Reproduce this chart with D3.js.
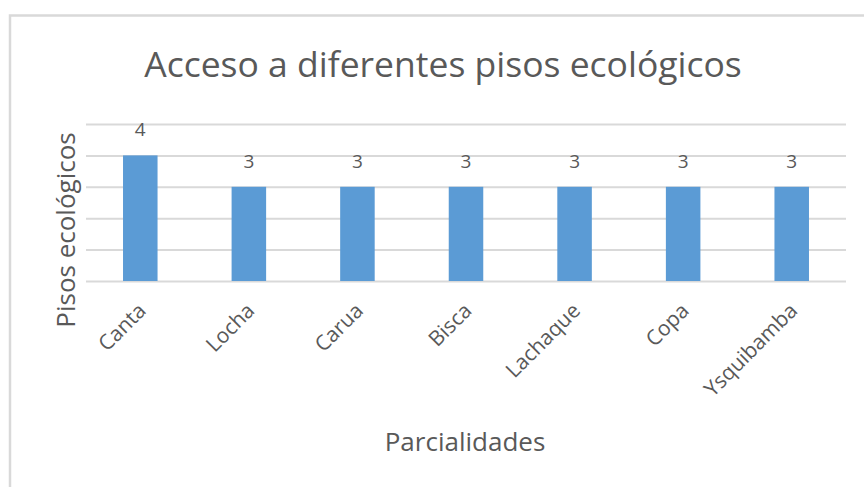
<!DOCTYPE html>
<html>
<head>
<meta charset="utf-8">
<script src="https://cdn.jsdelivr.net/npm/d3@7"></script>
<style>
  html, body { margin: 0; padding: 0; background: #fff; }
  svg { display: block; }
  text { font-family: "Open Sans", "Noto Sans", sans-serif; fill: #595959; }
</style>
</head>
<body>
<svg id="chart" width="864" height="487"></svg>
<script>
// Parcialidades and number of ecological floors reached by each
const categories = ["Canta", "Locha", "Carua", "Bisca", "Lachaque", "Copa", "Ysquibamba"];
const values = [4, 3, 3, 3, 3, 3, 3];
const yTicks = [0, 1, 2, 3, 4, 5];

const titleText = "Acceso a diferentes pisos ecológicos";
const xTitle = "Parcialidades";
const yTitle = "Pisos ecológicos";

const svg = d3.select("#chart");
const W = 864, H = 487;

// chart frame (left and top edges of the chart area)
svg.append("path")
  .attr("d", `M10,${H} L10,15.5 L${W},15.5`)
  .attr("fill", "none")
  .attr("stroke", "#d9d9d9")
  .attr("stroke-width", 2.5);

const plot = { left: 86, right: 846, top: 124, bottom: 281 };

const x = d3.scaleBand()
  .domain(categories)
  .range([plot.left, plot.right])
  .paddingInner(0.682)
  .paddingOuter(0.341);

const y = d3.scaleLinear()
  .domain([0, 5])
  .range([plot.bottom, plot.top]);

// horizontal gridlines
svg.append("g")
  .attr("class", "grid")
  .attr("transform", `translate(${plot.left},0)`)
  .call(d3.axisLeft(y).tickValues(yTicks).tickSize(-(plot.right - plot.left)).tickFormat(""))
  .call(g => g.select(".domain").remove())
  .call(g => g.selectAll("line").attr("stroke", "#d9d9d9").attr("stroke-width", 2));

// bars
svg.append("g")
  .selectAll("rect")
  .data(categories.map((c, i) => ({ c, v: values[i] })))
  .join("rect")
  .attr("x", d => x(d.c))
  .attr("y", d => y(d.v))
  .attr("width", x.bandwidth())
  .attr("height", d => y(0) - y(d.v))
  .attr("fill", "#5b9bd5");

// value labels
svg.append("g")
  .selectAll("text")
  .data(categories.map((c, i) => ({ c, v: values[i] })))
  .join("text")
  .attr("x", d => x(d.c) + x.bandwidth() / 2)
  .attr("y", d => y(d.v) - 19)
  .attr("text-anchor", "middle")
  .attr("font-size", 19)
  .text(d => d.v);

// category axis labels, rotated
const xAxis = svg.append("g")
  .attr("transform", `translate(0,${plot.bottom})`)
  .call(d3.axisBottom(x).tickSize(0).tickPadding(0))
  .call(g => g.select(".domain").remove());
xAxis.selectAll(".tick text")
  .attr("font-family", "'Open Sans', 'Noto Sans', sans-serif")
  .attr("font-size", 21)
  .attr("fill", "#595959")
  .attr("text-anchor", "end")
  .attr("dy", null)
  .attr("transform", "translate(7,31) rotate(-45)");

// chart title
svg.append("text")
  .attr("x", 443)
  .attr("y", 77)
  .attr("text-anchor", "middle")
  .attr("font-size", 35.5)
  .text(titleText);

// axis titles
svg.append("text")
  .attr("x", 465)
  .attr("y", 451)
  .attr("text-anchor", "middle")
  .attr("font-size", 26)
  .text(xTitle);

svg.append("text")
  .attr("transform", "translate(75,230) rotate(-90)")
  .attr("text-anchor", "middle")
  .attr("font-size", 26)
  .text(yTitle);
</script>
</body>
</html>
